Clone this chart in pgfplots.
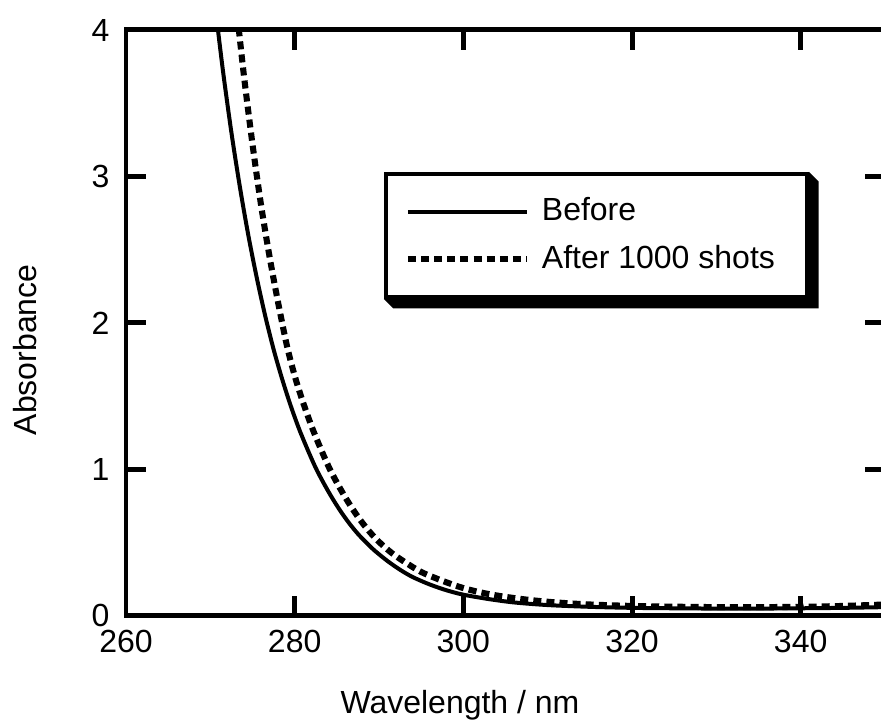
\documentclass[border=0pt]{standalone}
\usepackage{fontspec}
\setmainfont{Liberation Sans}
\usepackage{pgfplots}
\pgfplotsset{compat=1.18}

\begin{document}
\begin{tikzpicture}
\begin{axis}[
    scale only axis, width=237.2pt, height=183.1pt,
    xmin=260, xmax=350, ymin=0, ymax=4,
    xtick={260,280,300,320,340}, ytick={0,1,2,3,4},
    minor tick num=0,
    tick align=inside, major tick length=6.25pt,
    every tick/.style={black, line width=1.56pt},
    axis line style={line width=1.56pt},
    /pgf/number format/assume math mode=true,
    xticklabel style={inner sep=0pt, yshift=-4.4pt},
    yticklabel style={inner sep=0pt, xshift=-5pt},
    every axis x label/.style={at={([yshift=-27.8pt]rel axis cs:0.44,0)}, anchor=center},
    every axis y label/.style={at={([xshift=-31.6pt]rel axis cs:0,0.454)}, anchor=center, rotate=90},
    xlabel={Wavelength / nm},
    ylabel={Absorbance},
    legend cell align=left,
    legend image code/.code={\draw[#1] (0pt,0pt) -- (37.2pt,0pt);},
    legend style={name=leg, at={(rel axis cs:0.3396,0.7578)}, anchor=north west,
      draw=black, line width=1.25pt, fill=white,
      inner xsep=6pt, inner ysep=7.4pt, row sep=6.15pt, column sep=3.7pt,
      nodes={inner sep=0pt}},
  ]
  \coordinate (bl) at (rel axis cs:0,0);
  \coordinate (tr) at (rel axis cs:1,1);
  % before irradiation
  \addplot[black, line width=1.25pt, smooth] coordinates {
    (270.7,4.10) (271.5,3.72) (272.5,3.30) (273.5,2.93) (274.5,2.60)
    (275.5,2.31) (276.5,2.05) (277.5,1.82) (278.5,1.62) (279.5,1.44)
    (280.5,1.28) (281.5,1.14) (282.5,1.01) (283.5,0.90) (284.5,0.80)
    (285.5,0.71) (286.5,0.63) (287.5,0.56) (288.5,0.50) (289.5,0.445)
    (291.0,0.375) (292.5,0.315) (294.0,0.265) (296.0,0.215) (298.0,0.175)
    (300.0,0.145) (303.0,0.115) (306.0,0.092) (310.0,0.074) (315.0,0.062)
    (320.0,0.055) (325.0,0.052) (330.0,0.05) (335.0,0.05) (340.0,0.052)
    (345.0,0.055) (350.0,0.06)
  };
  % after 1000 shots
  \addplot[black, line width=1.9pt, dash pattern=on 2.5pt off 1.6pt, smooth] coordinates {
    (273.2,4.10) (274.0,3.68) (275.0,3.22) (276.0,2.81) (277.0,2.46)
    (278.0,2.15) (279.1,1.84) (280.1,1.62) (281.1,1.44) (282.1,1.28)
    (283.1,1.14) (284.1,1.01) (285.1,0.90) (286.1,0.80) (287.1,0.71)
    (288.1,0.63) (289.1,0.56) (290.1,0.50) (291.5,0.43) (293.0,0.37)
    (295.0,0.30) (297.5,0.24) (300.0,0.19) (302.5,0.155) (305.0,0.13)
    (308.0,0.108) (311.0,0.092) (315.0,0.078) (320.0,0.068) (325.0,0.063)
    (330.0,0.06) (335.0,0.06) (340.0,0.062) (345.0,0.068) (350.0,0.078)
  };
  \legend{Before, After 1000 shots\rule{4pt}{0pt}}
\end{axis}
\fill[black] (leg.north east) -- ++(3pt,-3pt) -- ([xshift=3pt,yshift=-3pt]leg.south east)
  -- ([xshift=3pt,yshift=-3pt]leg.south west) -- (leg.south west) -- (leg.south east) -- cycle;
\pgfresetboundingbox
\path[use as bounding box] ([xshift=-39.375pt, yshift=-33.75pt]bl) rectangle ([xshift=-1.25pt, yshift=9.375pt]tr);
\end{tikzpicture}
\end{document}
